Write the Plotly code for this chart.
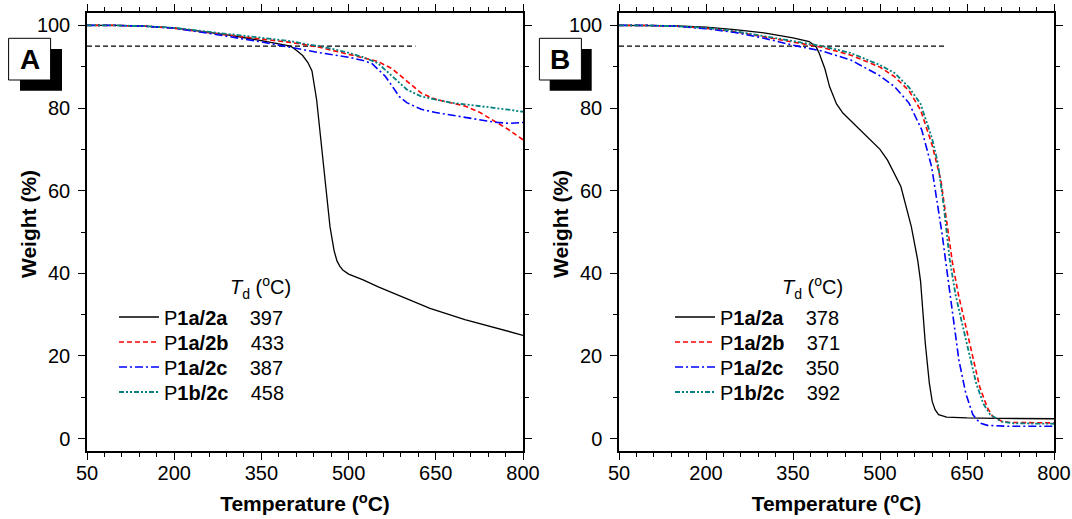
import plotly.graph_objects as go

# ---------------- data ----------------
names = ["P<b>1a/2a</b>", "P<b>1a/2b</b>", "P<b>1a/2c</b>", "P<b>1b/2c</b>"]
td_A = ["397", "433", "387", "458"]
td_B = ["378", "371", "350", "392"]

# Panel A
TA_1 = [50, 100, 150, 200, 250, 300, 350, 380, 400, 410, 421, 430, 437, 445, 454, 460, 468, 475, 480, 485, 490, 500, 525, 551, 600, 640, 700, 750, 800]
WA_1 = [100, 100, 99.8, 99.4, 98.5, 97.5, 96.3, 95.6, 95.0, 94.0, 92.7, 91.0, 89.0, 82.0, 69.9, 61.0, 51.3, 45.5, 43.0, 41.7, 40.8, 39.8, 38.4, 36.7, 33.8, 31.5, 28.8, 26.9, 25.0]

TA_2 = [50, 100, 150, 200, 250, 300, 350, 400, 450, 500, 525, 550, 575, 600, 625, 650, 675, 700, 725, 750, 775, 800]
WA_2 = [100, 100, 99.8, 99.3, 98.4, 97.5, 96.7, 95.9, 94.7, 93.0, 92.2, 91.3, 89.5, 86.5, 83.6, 82.1, 81.3, 80.5, 79.0, 76.8, 74.8, 72.3]

TA_3 = [50, 100, 150, 200, 250, 300, 350, 400, 450, 500, 525, 540, 563, 575, 587, 600, 625, 650, 700, 750, 775, 800]
WA_3 = [100, 100, 99.8, 99.3, 98.3, 97.2, 96.0, 94.7, 93.4, 92.3, 91.5, 90.8, 87.7, 85.3, 82.8, 81.3, 79.7, 78.9, 77.8, 76.6, 76.3, 76.5]

TA_4 = [50, 100, 150, 200, 250, 300, 350, 400, 433, 450, 500, 525, 550, 575, 600, 625, 650, 675, 700, 725, 750, 775, 800]
WA_4 = [100, 100, 99.8, 99.4, 98.6, 97.8, 97.0, 96.2, 95.3, 95.0, 93.4, 92.3, 90.9, 87.8, 84.5, 82.8, 82.0, 81.3, 80.9, 80.5, 80.1, 79.6, 79.1]

# Panel B
TB_1 = [50, 100, 150, 200, 250, 300, 350, 378, 390, 395, 405, 413, 425, 436, 454, 478, 500, 513, 536, 554, 565, 570, 575, 578, 585, 590, 595, 601, 615, 650, 700, 800]
WB_1 = [100, 100, 99.9, 99.6, 99.0, 98.2, 97.0, 96.1, 94.8, 93.3, 89.5, 85.2, 81.0, 78.8, 76.3, 73.1, 70.0, 67.4, 61.0, 51.3, 43.2, 38.0, 29.0, 23.2, 13.5, 9.0, 7.0, 5.8, 5.2, 5.0, 4.9, 4.8]

TB_2 = [50, 100, 150, 200, 250, 300, 350, 400, 450, 500, 525, 550, 570, 590, 605, 615, 625, 635, 648, 660, 672, 685, 695, 710, 725, 800]
WB_2 = [100, 100, 99.8, 99.3, 98.5, 97.2, 95.9, 94.7, 92.8, 89.9, 87.6, 84.2, 79.5, 71.0, 62.5, 52.5, 42.5, 35.0, 27.0, 19.5, 12.5, 7.5, 5.2, 4.2, 3.9, 3.8]

TB_3 = [50, 100, 150, 200, 250, 300, 350, 400, 450, 500, 525, 550, 572, 589, 598, 607, 616, 625, 636, 648, 660, 672, 685, 720, 800]
WB_3 = [100, 100, 99.8, 99.2, 98.3, 96.9, 95.2, 93.8, 91.6, 87.8, 85.2, 81.2, 74.7, 65.8, 57.7, 49.6, 40.0, 31.0, 19.0, 10.9, 5.8, 3.8, 3.2, 3.0, 3.0]

TB_4 = [50, 100, 150, 200, 250, 300, 350, 400, 450, 500, 525, 550, 570, 590, 600, 610, 620, 630, 643, 655, 666, 678, 690, 710, 730, 800]
WB_4 = [100, 100, 99.8, 99.4, 98.6, 97.4, 96.3, 95.0, 93.3, 90.4, 88.5, 85.0, 81.0, 72.5, 66.5, 56.2, 43.5, 35.0, 27.0, 19.5, 13.3, 8.5, 5.8, 4.1, 3.7, 3.6]

# 95 % threshold line
thr_T = [50, 615]
thr_W = [95, 95]

x_ticks = [50, 200, 350, 500, 650, 800]
x_ticklabels = ["50", "200", "350", "500", "650", "800"]
y_ticks = [0, 20, 40, 60, 80, 100]
y_ticklabels = ["0", "20", "40", "60", "80", "100"]

# ---------------- styles ----------------
colors = ["#000000", "#FF0000", "#0000FF", "#008080"]
dashes = ["solid", "5px,3px", "8px,3px,2px,3px", "5px,2px,2px,2px,2px,2px"]
widths = [1.3, 1.6, 1.6, 1.8]
FONT = "Liberation Sans, Arial, sans-serif"

W, H = 1072, 519
def px(x):
    return x / W
def py(y):
    return 1 - y / H

fig = go.Figure()

row_y = [317, 342, 367, 392]
panels = [
    ("x", "y", 1, 114, [(TA_1, WA_1), (TA_2, WA_2), (TA_3, WA_3), (TA_4, WA_4)], td_A),
    ("x2", "y2", 5, 670, [(TB_1, WB_1), (TB_2, WB_2), (TB_3, WB_3), (TB_4, WB_4)], td_B),
]
legends = {}
for xa, ya, lg0, lgx, series, tds in panels:
    fig.add_trace(go.Scatter(x=thr_T, y=thr_W, mode="lines", xaxis=xa, yaxis=ya,
                             line=dict(color="black", width=1.2, dash="5px,3px"),
                             showlegend=False, hoverinfo="skip"))
    for i, (t, w) in enumerate(series):
        lgname = "legend" if lg0 + i == 1 else "legend%d" % (lg0 + i)
        fig.add_trace(go.Scatter(
            x=t, y=w, mode="lines", xaxis=xa, yaxis=ya, legend=lgname,
            name=names[i] + "&nbsp;&nbsp;&nbsp;&nbsp;" + tds[i],
            line=dict(color=colors[i], width=widths[i], dash=dashes[i]),
        ))
        legends[lgname] = dict(font=dict(family=FONT, size=20, color="black"), bgcolor="rgba(0,0,0,0)",
                               borderwidth=0, xanchor="left", yanchor="middle", itemwidth=40,
                               x=px(lgx), y=py(row_y[i]))

axis_common = dict(
    showline=True, linecolor="black", linewidth=1.5, mirror="allticks",
    ticks="outside", ticklen=7, tickwidth=1, tickcolor="black",
    showgrid=False, zeroline=False, automargin=False,
    tickfont=dict(family=FONT, size=20, color="black"),
)
xcommon = dict(axis_common, range=[50, 800], tickmode="array", tickvals=x_ticks, ticktext=x_ticklabels,
               minor=dict(tickmode="linear", tick0=50, dtick=30, ticklen=4, ticks="outside", tickcolor="black"),
               ticklabelstandoff=-4,
               title=dict(text="<b>Temperature (<sup>o</sup>C)</b>", font=dict(family=FONT, size=21, color="black"), standoff=14))
ycommon = dict(axis_common, range=[-3, 103], tickmode="array", tickvals=y_ticks, ticktext=y_ticklabels,
               minor=dict(tickmode="linear", tick0=0, dtick=10, ticklen=4, ticks="outside", tickcolor="black"),
               ticklabelstandoff=4)

fig.update_layout(
    width=W, height=H, autosize=False,
    margin=dict(l=0, r=0, t=0, b=0),
    paper_bgcolor="white", plot_bgcolor="white",
    font=dict(family=FONT, color="black"),
    xaxis=dict(xcommon, domain=[px(87), px(523)], anchor="y"),
    yaxis=dict(ycommon, domain=[py(451), py(13)], anchor="x"),
    xaxis2=dict(xcommon, domain=[px(619), px(1054)], anchor="y2"),
    yaxis2=dict(ycommon, domain=[py(451), py(13)], anchor="x2"),
    **legends,
)

shapes = []
annotations = []
for (bx, sx, label) in [(8.6, 20, "A"), (539.4, 549.7, "B")]:
    shapes.append(dict(type="rect", xref="paper", yref="paper", x0=px(sx), x1=px(sx + 42),
                       y0=py(90.7), y1=py(49), fillcolor="black", line=dict(width=0), layer="above"))
    shapes.append(dict(type="rect", xref="paper", yref="paper", x0=px(bx), x1=px(bx + 42),
                       y0=py(80), y1=py(38.3), fillcolor="white", line=dict(color="black", width=1), layer="above"))
    annotations.append(dict(xref="paper", yref="paper", x=px(bx + 21), y=py(59.5), text="<b>" + label + "</b>",
                            showarrow=False, font=dict(family=FONT, size=28, color="black"),
                            xanchor="center", yanchor="middle"))
for hx in [260, 812]:
    annotations.append(dict(xref="paper", yref="paper", x=px(hx), y=py(288),
                            text="<i>T</i><sub>d</sub> (<sup>o</sup>C)", showarrow=False,
                            font=dict(family=FONT, size=20, color="black"), xanchor="center", yanchor="middle"))
for tx in [29, 561]:
    annotations.append(dict(xref="paper", yref="paper", x=px(tx), y=py(224), text="<b>Weight (%)</b>",
                            textangle=-90, showarrow=False, font=dict(family=FONT, size=21, color="black"),
                            xanchor="center", yanchor="middle"))
fig.update_layout(shapes=shapes, annotations=annotations)

fig.write_html("out.html", config={"displayModeBar": False},
               post_script="document.body.style.margin='0';document.body.style.overflow='hidden';")
